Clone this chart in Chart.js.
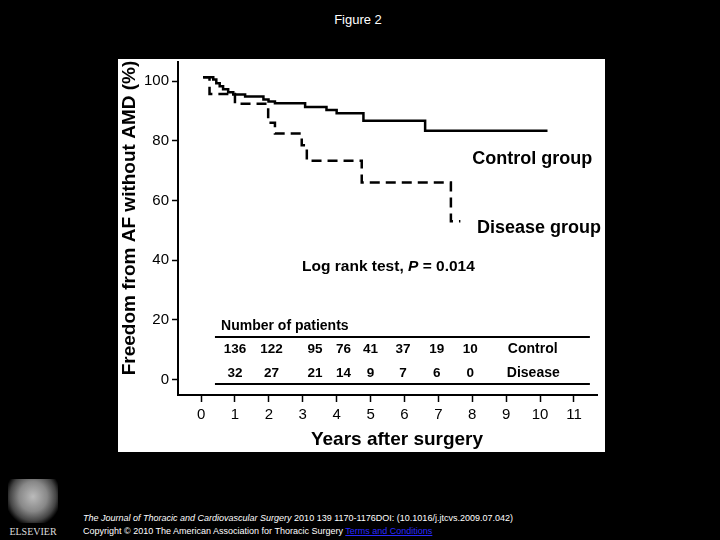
<!DOCTYPE html>
<html>
<head>
<meta charset="utf-8">
<script src="https://cdn.jsdelivr.net/npm/chart.js@4.4.0/dist/chart.umd.min.js"></script>
<style>
  body { margin: 0; background: #000; width: 720px; height: 540px; overflow: hidden; position: relative;
         font-family: 'Liberation Sans', Arial, sans-serif; }
  #title { position: absolute; left: 0; width: 716px; top: 12px; text-align: center; color: #fff; font-size: 13px; }
  #panel { position: absolute; left: 118px; top: 59px; width: 487px; height: 393px; background: #fff; }
  .foot { position: absolute; left: 83px; color: #fff; font-size: 9px; white-space: nowrap; }
  .foot a { color: #2a2aff; text-decoration: underline; }
  #logo { position: absolute; left: 8px; top: 479px; width: 50px; height: 44px;
          background: radial-gradient(ellipse at 50% 40%, #bbb 0%, #888 40%, #444 65%, #000 80%); }
  #logoText { position: absolute; left: 6px; top: 526px; width: 54px; text-align: center; color: #ddd;
              font: 10px 'Liberation Serif', 'Times New Roman', serif; }
</style>
</head>
<body>
<div id="title">Figure 2</div>
<div id="panel"><canvas id="km" width="487" height="393"></canvas></div>
<div id="logo"></div>
<div id="logoText">ELSEVIER</div>
<div class="foot" style="top:513px"><i>The Journal of Thoracic and Cardiovascular Surgery</i> 2010 139 1170-1176DOI: (10.1016/j.jtcvs.2009.07.042)</div>
<div class="foot" style="top:526px">Copyright © 2010 The American Association for Thoracic Surgery <a>Terms and Conditions</a></div>
<script>
// Kaplan-Meier curves (years, % free from AF)
const controlYears = [0.06, 0.36, 0.45, 0.55, 0.65, 0.8, 0.95, 1.3, 1.84, 1.99, 2.18, 3.07, 3.7, 4.0, 4.79, 6.61, 10.22];
const controlSurv  = [101.3, 100.5, 99.3, 98.3, 97.3, 96.3, 95.5, 94.8, 93.8, 93.2, 92.6, 91.3, 90.3, 89.2, 86.7, 83.4, 83.4];
const diseaseYears = [0.06, 0.25, 1.0, 1.98, 2.18, 2.97, 3.12, 4.74, 7.37, 7.65];
const diseaseSurv  = [101.3, 95.7, 92.4, 86.0, 82.4, 78.5, 73.3, 66.0, 53.0, 53.0];

// number of patients at risk
const atRiskYears   = [1.0, 2.08, 3.36, 4.2, 5.0, 5.96, 6.95, 7.94];
const controlAtRisk = [136, 122, 95, 76, 41, 37, 19, 10];
const diseaseAtRisk = [32, 27, 21, 14, 9, 7, 6, 0];

const xTicks = [0, 1, 2, 3, 4, 5, 6, 7, 8, 9, 10, 11];
const yTicks = [0, 20, 40, 60, 80, 100];

const fam = "'Liberation Sans', Arial, sans-serif";

const annotations = {
  id: 'annotations',
  afterDraw(chart) {
    const { ctx, scales: { x, y } } = chart;
    ctx.save();
    ctx.fillStyle = '#000';
    ctx.strokeStyle = '#000';
    ctx.textBaseline = 'middle';

    ctx.font = `bold 18px ${fam}`;
    ctx.fillText('Control group', x.getPixelForValue(8.0), y.getPixelForValue(73.9));
    ctx.fillText('Disease group', x.getPixelForValue(8.14), y.getPixelForValue(50.8));

    // log rank text with italic P
    let lx = x.getPixelForValue(2.98);
    const ly = y.getPixelForValue(37.8);
    ctx.font = `bold 15.5px ${fam}`;
    ctx.fillText('Log rank test, ', lx, ly);
    lx += ctx.measureText('Log rank test, ').width;
    ctx.font = `italic bold 15.5px ${fam}`;
    ctx.fillText('P', lx, ly);
    lx += ctx.measureText('P').width;
    ctx.font = `bold 15.5px ${fam}`;
    ctx.fillText(' = 0.014', lx, ly);

    // patients table
    ctx.font = `bold 14px ${fam}`;
    ctx.fillText('Number of patients', x.getPixelForValue(0.59), y.getPixelForValue(17.9));
    ctx.lineWidth = 2;
    [14.2, -1.5].forEach(v => {
      ctx.beginPath();
      ctx.moveTo(x.getPixelForValue(0.41), y.getPixelForValue(v));
      ctx.lineTo(x.getPixelForValue(11.47), y.getPixelForValue(v));
      ctx.stroke();
    });
    ctx.font = `bold 13.5px ${fam}`;
    ctx.textAlign = 'center';
    atRiskYears.forEach((t, i) => {
      ctx.fillText(String(controlAtRisk[i]), x.getPixelForValue(t), y.getPixelForValue(10.2));
      ctx.fillText(String(diseaseAtRisk[i]), x.getPixelForValue(t), y.getPixelForValue(2.1));
    });
    ctx.textAlign = 'left';
    ctx.font = `bold 14px ${fam}`;
    ctx.fillText('Control', x.getPixelForValue(9.05), y.getPixelForValue(10.2));
    ctx.fillText('Disease', x.getPixelForValue(9.02), y.getPixelForValue(2.1));

    // axis titles
    ctx.font = `bold 19px ${fam}`;
    ctx.textAlign = 'center';
    ctx.fillText('Years after surgery', 279, 381);
    ctx.translate(12, 159);
    ctx.rotate(-Math.PI / 2);
    ctx.fillText('Freedom from AF without AMD (%)', 0, 0);
    ctx.restore();
  }
};

const axisGrid = { drawOnChartArea: false, drawTicks: true, tickColor: '#000', tickWidth: 1.5 };

new Chart(document.getElementById('km'), {
  type: 'line',
  data: {
    datasets: [
      {
        label: 'Control group',
        data: controlYears.map((t, i) => ({ x: t, y: controlSurv[i] })),
        stepped: true,
        borderColor: '#000',
        borderWidth: 2.5,
        pointRadius: 0,
        fill: false,
      },
      {
        label: 'Disease group',
        data: diseaseYears.map((t, i) => ({ x: t, y: diseaseSurv[i] })),
        stepped: true,
        borderColor: '#000',
        borderWidth: 2.5,
        borderDash: [10, 6],
        pointRadius: 0,
        fill: false,
      },
    ],
  },
  options: {
    responsive: false,
    animation: false,
    layout: { padding: { top: 3, right: 8, left: 0, bottom: 0 } },
    plugins: { legend: { display: false }, tooltip: { enabled: false } },
    scales: {
      x: {
        type: 'linear',
        min: -0.68,
        max: 11.68,
        afterBuildTicks: (a) => { a.ticks = xTicks.map(v => ({ value: v })); },
        afterFit: (s) => { s.height = 57; s.paddingLeft = 0; s.paddingRight = 0; },
        grid: { ...axisGrid, tickLength: 7 },
        border: { color: '#000', width: 2 },
        ticks: { color: '#000', font: { size: 15, family: fam }, padding: 4, maxRotation: 0 },
      },
      y: {
        min: -5.2,
        max: 106.4,
        afterBuildTicks: (a) => { a.ticks = yTicks.map(v => ({ value: v })); },
        afterFit: (s) => { s.width = 60; s.paddingTop = 0; s.paddingBottom = 0; },
        grid: { ...axisGrid, tickLength: 6 },
        border: { color: '#000', width: 2 },
        ticks: { color: '#000', font: { size: 15, family: fam }, padding: 3 },
      },
    },
  },
  plugins: [annotations],
});
</script>
</body>
</html>
